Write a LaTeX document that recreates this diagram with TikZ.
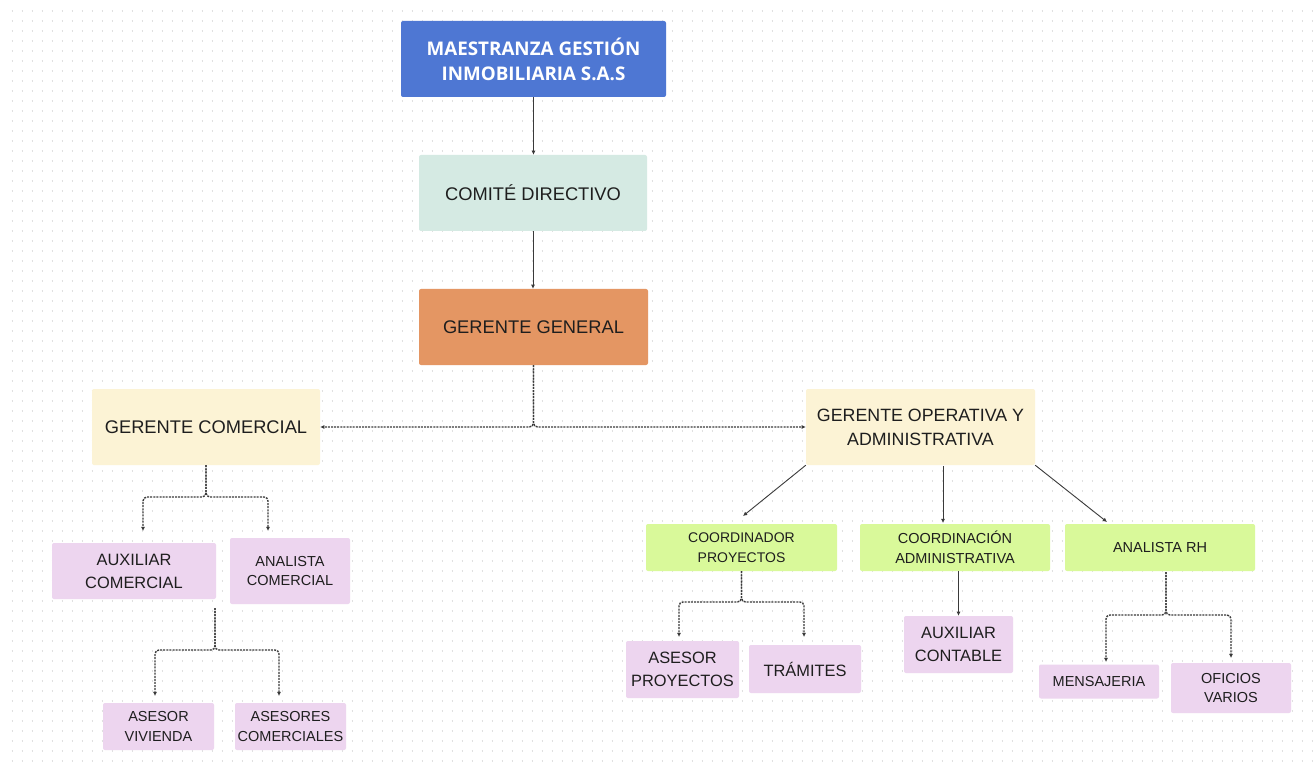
\documentclass[tikz,border=0pt]{standalone}
\usepackage{fontspec}
\setmainfont{Liberation Sans}
\newfontfamily\titlefont{Open Sans}
\usetikzlibrary{arrows.meta,calc}
\definecolor{cblue}{HTML}{4E77D3}
\definecolor{cmint}{HTML}{D5EAE3}
\definecolor{corange}{HTML}{E49663}
\definecolor{cyellow}{HTML}{FCF3D5}
\definecolor{cgreen}{HTML}{D9F99A}
\definecolor{cpink}{HTML}{EDD5EF}
\definecolor{ctext}{HTML}{1E1E1E}
\definecolor{cdot}{HTML}{E0E0E0}
\definecolor{cline}{HTML}{3A3A3A}
\newcommand\fsz[2]{\fontsize{#1}{#2}\selectfont}
\begin{document}
\begin{tikzpicture}[x=1pt,y=-1pt,
  box/.style={rectangle, rounded corners=2pt, draw=none, align=center, inner sep=0pt, text=ctext},
  bigbox/.style={box, font=\fsz{18.3}{24}},
  midbox/.style={box, font=\fsz{16.4}{23}},
  smallbox/.style={box, font=\fsz{14.5}{19.5}},
  tip/.style={-{Latex[length=4.2pt,width=4.2pt]}},
  sconn/.style={tip, draw=cline, line width=0.9pt},
  dconn/.style={tip, draw=cline, line width=1.4pt, dash pattern=on 2pt off 1.1pt, rounded corners=4pt},
  dotrow/.style={draw=cdot, line width=1.6pt, dash pattern=on 1.6pt off 8.4pt}
]
\useasboundingbox (0,0) rectangle (1314,767);
\fill[white] (0,0) rectangle (1314,767);
\foreach \j in {0,...,75} \draw[dotrow] (11.7,11+10*\j) -- (1314,11+10*\j);

% nodes
\node[box, fill=cblue, text=white, font=\titlefont\bfseries\fsz{18.8}{25}, minimum width=265, minimum height=76] (top) at (533.5,59) {MAESTRANZA GESTIÓN\\INMOBILIARIA S.A.S};
\node[bigbox, fill=cmint, minimum width=228, minimum height=76] (comite) at (533,193) {COMITÉ DIRECTIVO};
\node[bigbox, fill=corange, minimum width=229, minimum height=76] (gg) at (533.5,327) {GERENTE GENERAL};
\node[bigbox, fill=cyellow, minimum width=228, minimum height=76] (gc) at (206,427) {GERENTE COMERCIAL};
\node[bigbox, fill=cyellow, minimum width=229, minimum height=76, font=\fsz{17.8}{24}] (goa) at (920.5,427) {GERENTE OPERATIVA Y\\ADMINISTRATIVA};

\node[smallbox, fill=cgreen, minimum width=191, minimum height=47, font=\fsz{14}{20}] (coord) at (741.5,547.5) {COORDINADOR\\PROYECTOS};
\node[smallbox, fill=cgreen, minimum width=190, minimum height=47, font=\fsz{14.5}{20}] (cadm) at (955,547.5) {COORDINACIÓN\\ADMINISTRATIVA};
\node[smallbox, fill=cgreen, minimum width=190, minimum height=47] (arh) at (1160,547.5) {ANALISTA RH};

\node[midbox, fill=cpink, minimum width=164, minimum height=56] (auxcom) at (134,571) {AUXILIAR\\COMERCIAL};
\node[smallbox, fill=cpink, minimum width=120, minimum height=66] (anacom) at (290,571) {ANALISTA\\COMERCIAL};
\node[smallbox, fill=cpink, minimum width=111, minimum height=47] (asviv) at (158.5,726.5) {ASESOR\\VIVIENDA};
\node[smallbox, fill=cpink, minimum width=111, minimum height=47] (ascom) at (290.5,726.5) {ASESORES\\COMERCIALES};

\node[midbox, fill=cpink, minimum width=113, minimum height=57] (asproy) at (682.5,669.5) {ASESOR\\PROYECTOS};
\node[midbox, fill=cpink, minimum width=112, minimum height=48] (tram) at (805,669) {TRÁMITES};
\node[midbox, fill=cpink, minimum width=109, minimum height=57] (auxcont) at (958.5,644.5) {AUXILIAR\\CONTABLE};
\node[smallbox, fill=cpink, minimum width=120, minimum height=34] (mens) at (1099,681.5) {MENSAJERIA};
\node[smallbox, fill=cpink, minimum width=120, minimum height=50] (ofv) at (1231,688) {OFICIOS\\VARIOS};

% free ends
\coordinate (gcL) at (143,531);
\coordinate (gcR) at (268,531);
\coordinate (asplit) at (215,608);
\coordinate (asL) at (155,696);
\coordinate (asR) at (279,696);
\coordinate (coL) at (743,516);
\coordinate (caT) at (943,523);
\coordinate (caS) at (943,466);
\coordinate (arT) at (1107,522);
\coordinate (cpL) at (679,637);
\coordinate (cpR) at (804,637);
\coordinate (rhS) at (1166,572);
\coordinate (rhL) at (1106,662);
\coordinate (rhR) at (1231,658);

% connectors
\draw[sconn] (top.south) -- (top.south |- comite.north);
\draw[sconn] (comite.south) -- (comite.south |- gg.north);
\draw[dconn] (gg.south) -- (533.5,427) -- (gc.east);
\draw[dconn] (gg.south) -- (533.5,427) -- (goa.west);
\draw[dconn] (gc.south) -- (206,497) -- (143,497) -- (gcL);
\draw[dconn] (gc.south) -- (206,497) -- (268,497) -- (gcR);
\draw[dconn] (asplit) -- (215,650) -- (155,650) -- (asL);
\draw[dconn] (asplit) -- (215,650) -- (279,650) -- (asR);

\draw[sconn] (goa.south west) -- (coL);
\draw[sconn] (caS) -- (caT);
\draw[sconn] (goa.south east) -- (arT);

\draw[dconn] (coord.south) -- (741.5,602) -- (679,602) -- (cpL);
\draw[dconn] (coord.south) -- (741.5,602) -- (804,602) -- (cpR);
\draw[sconn] (auxcont.north |- cadm.south) -- (auxcont.north);
\draw[dconn] (rhS) -- (1166,615) -- (1106,615) -- (rhL);
\draw[dconn] (rhS) -- (1166,615) -- (1231,615) -- (rhR);
\end{tikzpicture}
\end{document}
